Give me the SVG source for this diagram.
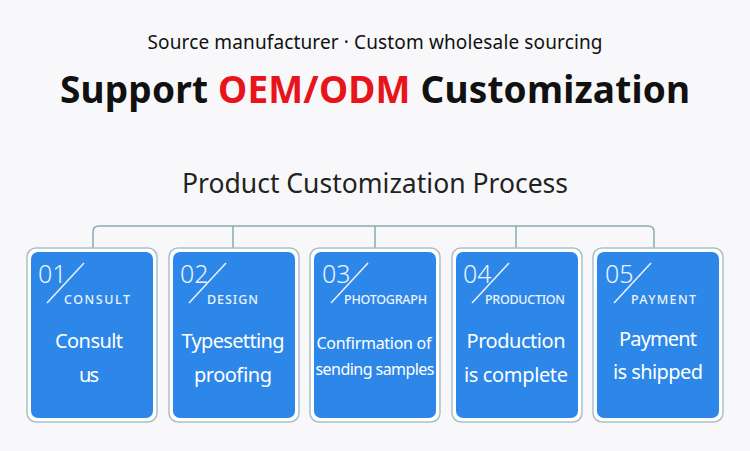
<svg xmlns="http://www.w3.org/2000/svg" width="750" height="451" viewBox="0 0 750 451">
<style>
.bg{fill:#f8f8fa}
.outer{fill:#ffffff;stroke:#a8c0cb;stroke-width:1.5}
.inner{fill:#2d87e8}
.num{font-family:"Noto Sans","Open Sans",sans-serif;font-size:25px;fill:#eaf3ff;font-weight:300}
.slash{stroke:#eaf3ff;stroke-width:1.5}
.lab{font-family:"Noto Sans","Open Sans",sans-serif;font-size:12.5px;fill:#eaf3ff;font-weight:500}
.main{font-family:"Noto Sans","Open Sans",sans-serif;font-size:20px;fill:#ffffff;text-anchor:middle}
.small{font-size:16px}
.conn{fill:none;stroke:#8aa9b3;stroke-width:1.5}
</style>
<rect class="bg" x="0" y="0" width="750" height="451"/>
<text x="375" y="49" font-family="Noto Sans, Open Sans, sans-serif" font-size="19" fill="#111" text-anchor="middle" textLength="455">Source manufacturer · Custom wholesale sourcing</text>
<text x="375" y="103" font-family="Noto Sans, Open Sans, sans-serif" font-size="37" font-weight="bold" fill="#111" text-anchor="middle" textLength="630">Support <tspan fill="#e8141b">OEM/ODM</tspan> Customization</text>
<text x="375" y="193" font-family="Noto Sans, Open Sans, sans-serif" font-size="26.5" fill="#222" text-anchor="middle" textLength="386">Product Customization Process</text>
<g id="connectors">
<path class="conn" d="M93,248 V232 Q93,226 99,226 H648 Q654,226 654,232 V248"/>
<path class="conn" d="M233,226 V248 M375,226 V248 M516,226 V248"/>
</g>
<g id="node1">
<rect class="outer" x="27" y="248" width="130" height="174" rx="9"/>
<rect class="inner" x="31" y="252" width="122" height="166" rx="7"/>
<text class="num" x="38" y="283">01</text>
<line class="slash" x1="47" y1="303" x2="84" y2="263"/>
<text class="lab" x="64" y="304" textLength="66">CONSULT</text>
<text class="main" x="89" y="348" textLength="68">Consult</text>
<text class="main" x="89" y="382" textLength="20">us</text>
</g>
<g id="node2">
<rect class="outer" x="169" y="248" width="130" height="174" rx="9"/>
<rect class="inner" x="173" y="252" width="122" height="166" rx="7"/>
<text class="num" x="180" y="283">02</text>
<line class="slash" x1="189" y1="303" x2="226" y2="263"/>
<text class="lab" x="207" y="304" textLength="51">DESIGN</text>
<text class="main" x="233" y="348" textLength="103">Typesetting</text>
<text class="main" x="233" y="382" textLength="78">proofing</text>
</g>
<g id="node3">
<rect class="outer" x="310" y="248" width="130" height="174" rx="9"/>
<rect class="inner" x="314" y="252" width="122" height="166" rx="7"/>
<text class="num" x="322" y="283">03</text>
<line class="slash" x1="331" y1="303" x2="368" y2="263"/>
<text class="lab" x="344" y="304" textLength="83">PHOTOGRAPH</text>
<text class="main small" x="374" y="349" textLength="115">Confirmation of</text>
<text class="main small" x="375" y="375" textLength="119">sending samples</text>
</g>
<g id="node4">
<rect class="outer" x="452" y="248" width="130" height="174" rx="9"/>
<rect class="inner" x="456" y="252" width="122" height="166" rx="7"/>
<text class="num" x="463" y="283">04</text>
<line class="slash" x1="472" y1="303" x2="509" y2="263"/>
<text class="lab" x="485" y="304" textLength="80">PRODUCTION</text>
<text class="main" x="516" y="348" textLength="99">Production</text>
<text class="main" x="516" y="382" textLength="104">is complete</text>
</g>
<g id="node5">
<rect class="outer" x="593" y="248" width="130" height="174" rx="9"/>
<rect class="inner" x="597" y="252" width="122" height="166" rx="7"/>
<text class="num" x="605" y="283">05</text>
<line class="slash" x1="614" y1="303" x2="651" y2="263"/>
<text class="lab" x="631" y="304" textLength="65">PAYMENT</text>
<text class="main" x="658" y="346" textLength="78">Payment</text>
<text class="main" x="658" y="379" textLength="90">is shipped</text>
</g>
</svg>
